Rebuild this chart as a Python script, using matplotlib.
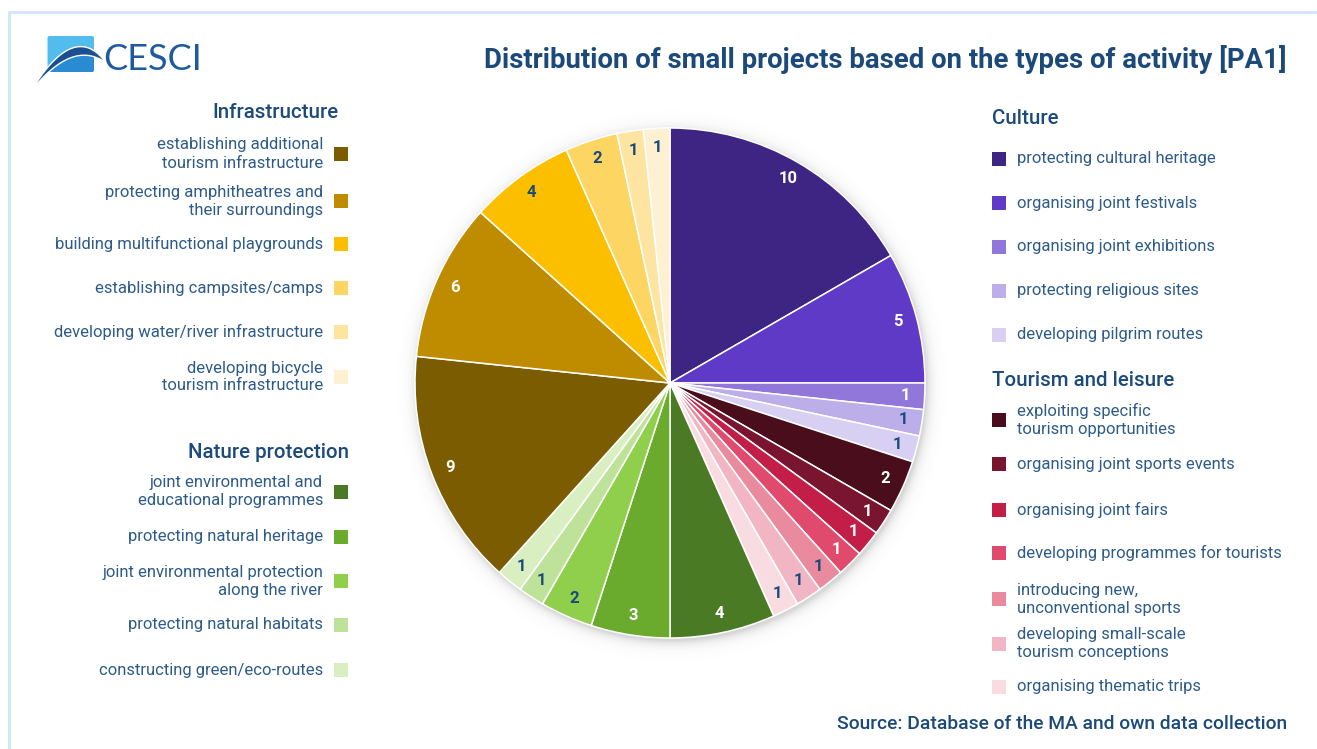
import numpy as np
import matplotlib
matplotlib.use("Agg")
import matplotlib.pyplot as plt
from matplotlib.patches import Rectangle, Polygon, FancyBboxPatch
from matplotlib.colors import to_rgb

# ---- data -------------------------------------------------------------
culture_labels = ["protecting cultural heritage", "organising joint festivals",
                  "organising joint exhibitions", "protecting religious sites",
                  "developing pilgrim routes"]
culture_values = [10, 5, 1, 1, 1]

tourism_labels = ["exploiting specific\ntourism opportunities",
                  "organising joint sports events", "organising joint fairs",
                  "developing programmes for tourists",
                  "introducing new,\nunconventional sports",
                  "developing small-scale\ntourism conceptions",
                  "organising thematic trips"]
tourism_values = [2, 1, 1, 1, 1, 1, 1]

nature_labels = ["joint environmental and\neducational programmes",
                 "protecting natural heritage",
                 "joint environmental protection\nalong the river",
                 "protecting natural habitats", "constructing green/eco-routes"]
nature_values = [4, 3, 2, 1, 1]

infra_labels = ["establishing additional\ntourism infrastructure",
                "protecting amphitheatres and\ntheir surroundings",
                "building multifunctional playgrounds",
                "establishing campsites/camps",
                "developing water/river infrastructure",
                "developing bicycle\ntourism infrastructure"]
infra_values = [9, 6, 4, 2, 1, 1]

# ---- colours ----------------------------------------------------------
culture_colors = ["#3e2483", "#5e3ac7", "#9177d9", "#bcaee8", "#d8d0f2"]
tourism_colors = ["#4a0d1c", "#7a1530", "#c21e48", "#e04a6c", "#e98a9e",
                  "#f2b5c3", "#f9dbe2"]
nature_colors = ["#4a7a23", "#6aaa2d", "#8fcf4c", "#bfe29a", "#d9efc2"]
infra_colors = ["#7c5c00", "#bf8c00", "#fbbf00", "#fdd563", "#fde4a0", "#fef1d2"]

TITLE_C = "#1b4a7a"
HEAD_C = "#1c4b7b"
ITEM_C = "#2d5b8a"
FONT = "Roboto"
ITEM_FS = 12
HEAD_FS = 14.8

W, H = 1317, 749
fig = plt.figure(figsize=(W / 100, H / 100), dpi=100)
ax = fig.add_axes([0, 0, 1, 1])
ax.set_xlim(0, W)
ax.set_ylim(0, H)
ax.axis("off")


def Y(y):
    return H - y


# ---- frame ------------------------------------------------------------
ax.plot([8.5, 8.5, W + 5], [0, Y(11.5), Y(11.5)], color="#d2e7fb", lw=2.2,
        solid_joinstyle="round", zorder=1)

# ---- logo -------------------------------------------------------------
def qbez(p0, c, p2, n=50):
    t = np.linspace(0, 1, n)[:, None]
    p0, c, p2 = map(np.asarray, (p0, c, p2))
    pts = (1 - t) ** 2 * p0 + 2 * (1 - t) * t * c + t ** 2 * p2
    pts[:, 1] = H - pts[:, 1]
    return pts


square = FancyBboxPatch((47.5, Y(72)), 46.5, 36, boxstyle="round,pad=0,rounding_size=2",
                        facecolor="#52bdec", edgecolor="none", zorder=2)
ax.add_patch(square)
top_arc = qbez((37, 83), (75, 26), (103, 60))
below = np.vstack([top_arc, [[103, Y(95)], [37, Y(95)]]])
lower_fill = Polygon(below, closed=True, facecolor="#2a8ad2", edgecolor="none", zorder=3)
ax.add_patch(lower_fill)
lower_fill.set_clip_path(square)
band = np.vstack([top_arc, qbez((103, 60), (73, 42), (37, 83))])
ax.add_patch(Polygon(band, closed=True, facecolor="#1b4f92",
                     edgecolor="white", lw=2.0, zorder=4))
ax.add_patch(Polygon(band, closed=True, facecolor="#1b4f92",
                     edgecolor="none", zorder=4))
ax.text(103, Y(59), "CESCI", fontsize=26, family="Lato", fontweight="normal",
        color="#1f5aa0", ha="left", va="center", zorder=4)

# ---- title & source ---------------------------------------------------
ax.text(1287, Y(60), "Distribution of small projects based on the types of activity [PA1]",
        fontsize=19.8, family=FONT, fontweight="bold", color=TITLE_C,
        ha="right", va="center")
ax.text(1287, Y(724), "Source: Database of the MA and own data collection",
        fontsize=13.9, family=FONT, fontweight="medium", color=TITLE_C,
        ha="right", va="center")

# ---- pie ----------------------------------------------------------------
values = culture_values + tourism_values + nature_values + infra_values
colors = culture_colors + tourism_colors + nature_colors + infra_colors
cx, cy, R = 670, Y(383), 255

# soft drop shadow
xs = np.arange(cx - R - 30, cx + R + 30)
ys = np.arange(cy - R - 30, cy + R + 30)
XX, YY = np.meshgrid(xs, ys)
d = np.hypot(XX - (cx + 2), YY - (cy - 3)) - R
alpha = 0.28 * np.exp(-np.clip(d, 0, None) / 5.0)
shadow = np.zeros(XX.shape + (4,))
shadow[..., :3] = 0.45
shadow[..., 3] = alpha
ax.imshow(shadow, extent=[xs[0], xs[-1], ys[0], ys[-1]], origin="lower",
          zorder=4, interpolation="bilinear", aspect="auto")

wedges, _ = ax.pie(values, colors=colors, startangle=90, counterclock=False,
                   center=(cx, cy), radius=R,
                   wedgeprops=dict(edgecolor="white", linewidth=1.1))
for w in wedges:
    w.set_zorder(5)
ax.set_xlim(0, W)
ax.set_ylim(0, H)
ax.set_aspect("auto")


def lum(c):
    r, g, b = to_rgb(c)
    return 0.299 * r + 0.587 * g + 0.114 * b


for w, v, c in zip(wedges, values, colors):
    mid = np.deg2rad((w.theta1 + w.theta2) / 2)
    px = cx + 0.925 * R * np.cos(mid)
    py = cy + 0.925 * R * np.sin(mid)
    ax.text(px, py, str(v), fontsize=12, family=FONT, fontweight="bold",
            color="white" if lum(c) < 0.6 else TITLE_C,
            ha="center", va="center", zorder=6)


# ---- legends ------------------------------------------------------------
def left_item(y, label, color):
    ax.text(323, Y(y), label, fontsize=ITEM_FS, family=FONT, color=ITEM_C,
            ha="right", va="center", linespacing=1.25, multialignment="right")
    ax.add_patch(Rectangle((334, Y(y) - 7), 14, 14, facecolor=color,
                           edgecolor="none"))


def right_item(y, label, color):
    ax.add_patch(Rectangle((992, Y(y) - 7), 14, 14, facecolor=color,
                           edgecolor="none"))
    ax.text(1017, Y(y), label, fontsize=ITEM_FS, family=FONT, color=ITEM_C,
            ha="left", va="center", linespacing=1.25, multialignment="left")


ax.text(339, Y(112), "Infrastructure", fontsize=HEAD_FS, family=FONT,
        fontweight="medium", color=HEAD_C, ha="right", va="center")
for yy, lab, col in zip([154, 201, 244, 288, 332, 377], infra_labels, infra_colors):
    left_item(yy, lab, col)

ax.text(349, Y(453), "Nature protection", fontsize=HEAD_FS, family=FONT,
        fontweight="medium", color=HEAD_C, ha="right", va="center")
for yy, lab, col in zip([492, 537, 581, 625, 670], nature_labels, nature_colors):
    left_item(yy, lab, col)

ax.text(992, Y(119), "Culture", fontsize=HEAD_FS, family=FONT,
        fontweight="medium", color=HEAD_C, ha="left", va="center")
for yy, lab, col in zip([159, 203, 247, 291, 335], culture_labels, culture_colors):
    right_item(yy, lab, col)

ax.text(992, Y(381), "Tourism and leisure", fontsize=HEAD_FS, family=FONT,
        fontweight="medium", color=HEAD_C, ha="left", va="center")
for yy, lab, col in zip([420, 464, 510, 553, 599, 644, 687], tourism_labels, tourism_colors):
    right_item(yy, lab, col)

fig.savefig("out.png", dpi=100, facecolor="white")
